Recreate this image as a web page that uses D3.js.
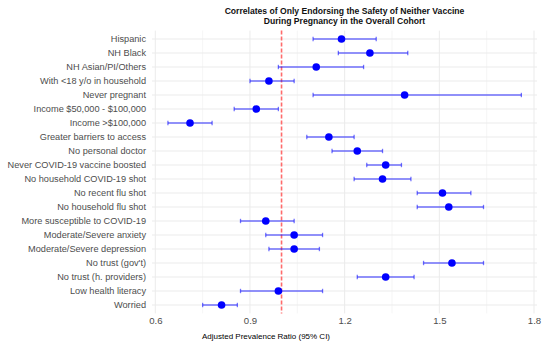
<!DOCTYPE html>
<html>
<head>
<meta charset="utf-8">
<script src="https://cdn.jsdelivr.net/npm/d3@7"></script>
<style>
  body { margin: 0; background: #fff; }
  svg { font-family: "Liberation Sans", Arial, sans-serif; }
</style>
</head>
<body>
<svg id="chart" width="550" height="344"></svg>
<script>
// categories top to bottom
const labels = [
  'Hispanic', 'NH Black', 'NH Asian/PI/Others', 'With <18 y/o in household',
  'Never pregnant', 'Income $50,000 - $100,000', 'Income >$100,000',
  'Greater barriers to access', 'No personal doctor', 'Never COVID-19 vaccine boosted',
  'No household COVID-19 shot', 'No recent flu shot', 'No household flu shot',
  'More susceptible to COVID-19', 'Moderate/Severe anxiety', 'Moderate/Severe depression',
  "No trust (gov't)", 'No trust (h. providers)', 'Low health literacy', 'Worried'
];
// adjusted prevalence ratio and 95% CI
const apr   = [1.19, 1.28, 1.11, 0.96, 1.39, 0.92, 0.71, 1.15, 1.24, 1.33, 1.32, 1.51, 1.53, 0.95, 1.04, 1.04, 1.54, 1.33, 0.99, 0.81];
const lower = [1.10, 1.18, 0.99, 0.90, 1.10, 0.85, 0.64, 1.08, 1.16, 1.27, 1.23, 1.43, 1.43, 0.87, 0.95, 0.96, 1.45, 1.24, 0.87, 0.75];
const upper = [1.30, 1.40, 1.26, 1.04, 1.76, 0.99, 0.78, 1.23, 1.32, 1.38, 1.41, 1.60, 1.64, 1.04, 1.13, 1.12, 1.64, 1.42, 1.13, 0.86];
const xTicks = [0.6, 0.9, 1.2, 1.5, 1.8];
const minorTicks = [0.75, 1.05, 1.35, 1.65];

const rows = labels.map((label, i) => ({label, est: apr[i], lo: lower[i], hi: upper[i]}));

const svg = d3.select('#chart');
const panel = {left: 152, right: 537, top: 30.6, bottom: 313.4};

const x = d3.scaleLinear().domain([0.6, 1.8]).range([155.3, 534]);
const y = d3.scalePoint().domain(labels).range([39, 305]);

// gridlines
const grid = svg.append('g');
grid.selectAll('.minor').data(minorTicks).enter().append('line')
  .attr('x1', d => x(d)).attr('x2', d => x(d))
  .attr('y1', panel.top).attr('y2', panel.bottom)
  .attr('stroke', '#f0f0f0').attr('stroke-width', 0.6);
grid.selectAll('.major').data(xTicks).enter().append('line')
  .attr('x1', d => x(d)).attr('x2', d => x(d))
  .attr('y1', panel.top).attr('y2', panel.bottom)
  .attr('stroke', '#ebebeb').attr('stroke-width', 1);
grid.selectAll('.hrow').data(labels).enter().append('line')
  .attr('x1', panel.left).attr('x2', panel.right)
  .attr('y1', d => y(d)).attr('y2', d => y(d))
  .attr('stroke', '#ebebeb').attr('stroke-width', 1);

// reference line at 1
svg.append('line')
  .attr('x1', x(1)).attr('x2', x(1))
  .attr('y1', panel.top).attr('y2', panel.bottom)
  .style('stroke', '#ff6b6b').style('stroke-width', 1.6)
  .style('stroke-dasharray', '4,2');

// error bars
const bars = svg.append('g').attr('stroke', 'rgba(0,0,255,0.55)').attr('stroke-width', 1.3);
bars.selectAll('.ci').data(rows).enter().append('line')
  .attr('x1', d => x(d.lo)).attr('x2', d => x(d.hi))
  .attr('y1', d => y(d.label)).attr('y2', d => y(d.label));
bars.selectAll('.capl').data(rows).enter().append('line')
  .attr('x1', d => x(d.lo)).attr('x2', d => x(d.lo))
  .attr('y1', d => y(d.label) - 2.2).attr('y2', d => y(d.label) + 2.2);
bars.selectAll('.caph').data(rows).enter().append('line')
  .attr('x1', d => x(d.hi)).attr('x2', d => x(d.hi))
  .attr('y1', d => y(d.label) - 2.2).attr('y2', d => y(d.label) + 2.2);

// points
svg.selectAll('.pt').data(rows).enter().append('circle')
  .attr('cx', d => x(d.est)).attr('cy', d => y(d.label))
  .attr('r', 3.8).attr('fill', '#0000ff');

// y labels
svg.append('g').selectAll('text').data(labels).enter().append('text')
  .attr('x', 146).attr('y', d => y(d)).attr('dy', '0.35em')
  .attr('text-anchor', 'end').attr('font-size', 9.2).attr('fill', '#4d4d4d')
  .text(d => d);

// x axis labels
const xAxis = d3.axisBottom(x).tickValues(xTicks).tickSize(0).tickPadding(0).tickFormat(d3.format('.1f'));
const gx = svg.append('g').attr('transform', `translate(0, ${panel.bottom + 4})`).call(xAxis);
gx.select('.domain').remove();
gx.selectAll('text').attr('font-size', 9.6).attr('fill', '#4d4d4d')
  .attr('font-family', '"Liberation Sans", Arial, sans-serif').attr('dy', '0.71em');

svg.append('text')
  .attr('x', 266).attr('y', 339).attr('text-anchor', 'middle')
  .attr('font-size', 8).attr('fill', '#000')
  .text('Adjusted Prevalence Ratio (95% CI)');

// title
const title = svg.append('text').attr('text-anchor', 'middle')
  .attr('font-size', 8.6).attr('font-weight', 'bold').attr('fill', '#111');
title.append('tspan').attr('x', 344.5).attr('y', 14)
  .text('Correlates of Only Endorsing the Safety of Neither Vaccine');
title.append('tspan').attr('x', 344.5).attr('y', 23.5)
  .text('During Pregnancy in the Overall Cohort');
</script>
</body>
</html>
